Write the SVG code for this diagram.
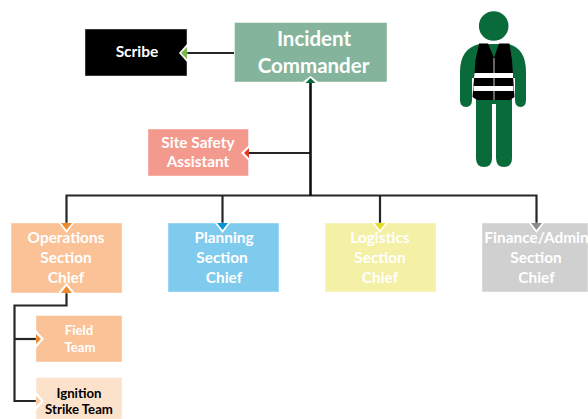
<svg xmlns="http://www.w3.org/2000/svg" width="588" height="419" viewBox="0 0 588 419">
<style>
text{font-family:"Lato","Open Sans","Liberation Sans",sans-serif;font-weight:700;text-anchor:middle;fill:#fff}
.s{font-size:15.4px}.m{font-size:15.5px}.l{font-size:20.5px}.t{font-size:13.2px}.k{fill:#000}
.box{stroke:#fff;stroke-opacity:.45;stroke-width:1}
.c{fill:none;stroke:#262626;stroke-width:2.200}
.v{stroke:#111;stroke-width:2.600}
.halo{fill:#fff}
.g{fill:#0a6b3a}
</style>
<rect width="588" height="419" fill="#fff"/>
<g id="connectors">
<path class="c" d="M234 53H187"/>
<path class="c" d="M310 153H248"/>
<path class="c" d="M66.500 223V195.500H536.500V223"/>
<path class="c" d="M222.500 195.500V223"/>
<path class="c" d="M380 195.500V223"/>
<path class="c" d="M66.500 293V305.500H14.500V401H36"/>
<path class="c" d="M14.500 339H36"/>
<path class="c v" d="M310.500 82V196"/>
</g>
<g id="scribe"><rect class="box" x="85" y="29" width="102" height="47" fill="#000" stroke="#444"/><text class="m" x="137" y="57">Scribe</text><path class="halo" d="M179 53l8-9v18z"/><path d="M181 53l6-6v12z" fill="#7ab648"/></g>
<g id="incident-commander"><rect class="box" x="234.500" y="22.500" width="152.500" height="59.500" fill="#84b59c"/><text class="l" x="314" y="46">Incident</text><text class="l" x="313.500" y="73">Commander</text><path class="halo" d="M310.500 76l-9 7h18z"/><path d="M310.500 78l-5 5h10z" fill="#0a6b3a"/></g>
<g id="site-safety-assistant"><rect class="box" x="148" y="129" width="100.500" height="47" fill="#f4998d"/><text class="s" x="198" y="148">Site Safety</text><text class="s" x="198" y="167">Assistant</text><path class="halo" d="M241 153l8-8v16z"/><path d="M244 153l5-5v10z" fill="#e03c22"/></g>
<g id="operations-section-chief"><rect class="box" x="11" y="223" width="111" height="70" fill="#fac296"/><text class="s" x="66" y="243">Operations</text><text class="s" x="66" y="263">Section</text><text class="s" x="66" y="283">Chief</text><path class="halo" d="M59 223h15l-7.500 10z"/><path d="M61 223h11l-5.500 7z" fill="#f08a2c"/><path class="halo" d="M58 293h17l-8.500-10z"/><path d="M61 293h11l-5.500-7z" fill="#f08a2c"/></g>
<g id="planning-section-chief"><rect class="box" x="168" y="223" width="111" height="69" fill="#7fcbee"/><text class="s" x="224" y="243">Planning</text><text class="s" x="222" y="263">Section</text><text class="s" x="224" y="283">Chief</text><path class="halo" d="M215 223h15l-7.500 10z"/><path d="M217 223h11l-5.500 7z" fill="#0a94d6"/></g>
<g id="logistics-section-chief"><rect class="box" x="325" y="223" width="111" height="69" fill="#f4f0a6"/><text class="s" x="380" y="243">Logistics</text><text class="s" x="380" y="263">Section</text><text class="s" x="380" y="283">Chief</text><path class="halo" d="M372.500 223h15l-7.500 10z"/><path d="M374.500 223h11l-5.500 7z" fill="#e4dc2e"/></g>
<g id="finance-admin-section-chief"><rect class="box" x="482" y="223" width="106" height="69" fill="#d0d0d0"/><text class="s" x="536.500" y="243">Finance/Admin</text><text class="s" x="536" y="263">Section</text><text class="s" x="536.500" y="283">Chief</text><path class="halo" d="M529 223h15l-7.500 10z"/><path d="M531 223h11l-5.500 7z" fill="#8c8c8c"/></g>
<g id="field-team"><rect class="box" x="36" y="315.500" width="86" height="46.500" fill="#fac296"/><text class="t" x="79" y="335">Field</text><text class="t" x="80" y="352">Team</text><path class="halo" d="M44 339l-8-9v18z"/><path d="M41 339l-5-5v10z" fill="#f08a2c"/></g>
<g id="ignition-strike-team"><rect class="box" x="36" y="377.500" width="86" height="41.500" fill="#fce2cb"/><text class="t k" x="79" y="398">Ignition</text><text class="t k" x="79" y="414">Strike Team</text><path class="halo" d="M44 401l-8-9v18z"/><path d="M41 401l-5-5v10z" fill="#f9c9a0"/></g>
<g id="person">
<circle class="g" cx="493.700" cy="26" r="14.800"/>
<path class="g" d="M480 44H508Q526 48 526 72V100Q526 107 520.500 107Q515 107 515 100V78H512V158Q512 167 504 167Q496 167 496 158V104H492V158Q492 167 484 167Q476 167 476 158V78H472V100Q472 107 466 107Q460 107 460 100V72Q460 48 480 44Z"/>
<path d="M479 43.500H488L494 58L499 43.500H509.500L512 60L514.500 97L510 100H477L472.500 97L475.500 60Z" fill="#000"/>
<path d="M474.500 73L513 73V78L474 78Z M473.500 86L513.500 86V91L473.500 91Z" fill="#fff"/>
<path d="M494 58V100" stroke="#fff" stroke-width="0.800" fill="none"/>
</g>
</svg>
